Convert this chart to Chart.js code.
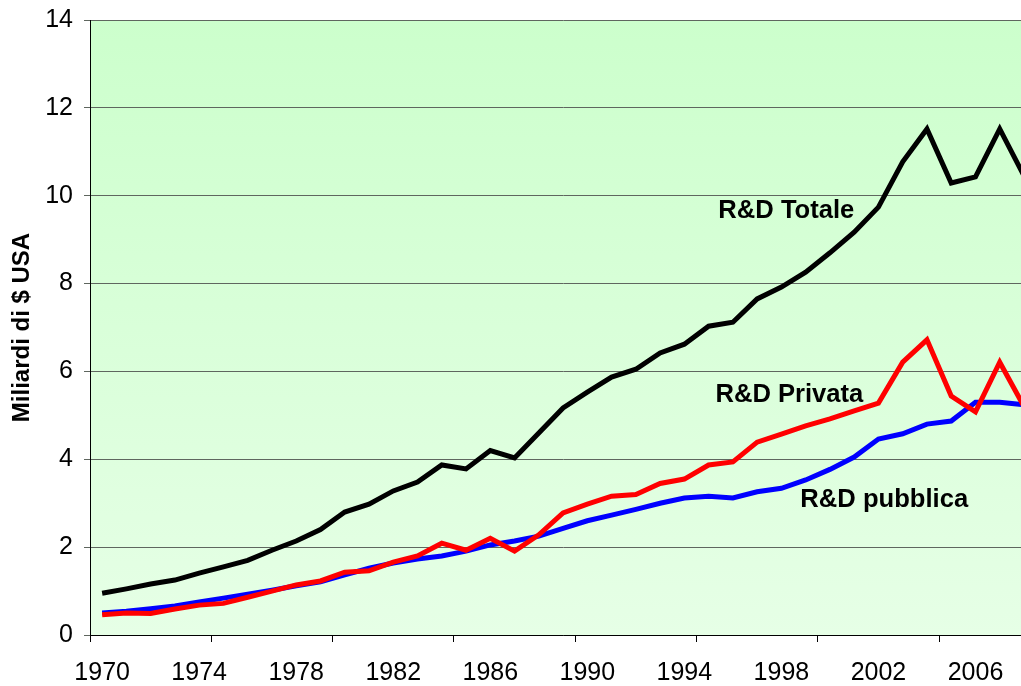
<!DOCTYPE html>
<html>
<head>
<meta charset="utf-8">
<script src="https://cdn.jsdelivr.net/npm/chart.js@4.4.1/dist/chart.umd.min.js"></script>
<style>
  html, body { margin: 0; padding: 0; overflow: hidden; background: #ffffff; width: 1021px; height: 686px; }
  #wrap { position: absolute; left: 0; top: 0; width: 1040px; height: 686px; }
</style>
</head>
<body>
<div id="wrap"><canvas id="c"></canvas></div>
<script>
// ---- data (billions USD) ----
const years = [];
for (let y = 1970; y <= 2008; y++) years.push(String(y));

const totale = [0.95,1.05,1.16,1.25,1.41,1.55,1.70,1.93,2.14,2.40,
                2.80,2.98,3.28,3.48,3.87,3.78,4.20,4.03,4.60,5.17,
                5.53,5.87,6.05,6.42,6.62,7.03,7.12,7.65,7.92,8.26,
                8.70,9.17,9.74,10.77,11.52,10.29,10.43,11.52,10.45];

const privata = [0.46,0.50,0.49,0.59,0.68,0.72,0.86,1.00,1.14,1.23,
                 1.43,1.46,1.66,1.80,2.09,1.93,2.20,1.91,2.28,2.78,
                 2.98,3.16,3.20,3.45,3.55,3.87,3.94,4.39,4.57,4.76,
                 4.92,5.10,5.28,6.21,6.72,5.44,5.08,6.21,5.20];

const pubblica = [0.50,0.54,0.60,0.66,0.75,0.84,0.93,1.02,1.12,1.21,
                  1.37,1.52,1.64,1.73,1.80,1.91,2.05,2.14,2.25,2.43,
                  2.60,2.73,2.86,3.00,3.12,3.16,3.12,3.26,3.34,3.53,
                  3.77,4.05,4.46,4.58,4.80,4.87,5.30,5.30,5.24];

const seriesNames = ['R&D Totale', 'R&D Privata', 'R&D pubblica'];
const yTicks = [0, 2, 4, 6, 8, 10, 12, 14];
const yTitle = 'Miliardi di $ USA';

// label anchors (category index, value) for in-plot series labels
const seriesLabelAnchors = [
  { text: seriesNames[0], x: 25.4, y: 9.49 },
  { text: seriesNames[1], x: 25.28, y: 5.30 },
  { text: seriesNames[2], x: 28.78, y: 2.91 }
];

const FONT = "'Liberation Sans', Arial, sans-serif";

const bgPlugin = {
  id: 'bg',
  beforeDraw(chart) {
    const { ctx, chartArea: a } = chart;
    const g = ctx.createLinearGradient(0, a.top, 0, a.bottom);
    g.addColorStop(0, '#CCFFCC');
    g.addColorStop(1, '#E6FFE6');
    ctx.save();
    ctx.fillStyle = g;
    ctx.fillRect(a.left, a.top, a.right - a.left, a.bottom - a.top);
    ctx.restore();
  }
};

const labelPlugin = {
  id: 'seriesLabels',
  afterDatasetsDraw(chart) {
    const { ctx, scales } = chart;
    ctx.save();
    ctx.fillStyle = '#000000';
    ctx.font = "bold 25.6px " + FONT;
    ctx.textAlign = 'left';
    ctx.textBaseline = 'alphabetic';
    seriesLabelAnchors.forEach(l => {
      ctx.fillText(l.text, scales.x.getPixelForValue(l.x), scales.y.getPixelForValue(l.y));
    });
    ctx.restore();
  }
};

new Chart(document.getElementById('c'), {
  type: 'line',
  data: {
    labels: years,
    datasets: [
      { label: seriesNames[0], data: totale, borderColor: '#000000', borderWidth: 5 },
      { label: seriesNames[1], data: privata, borderColor: '#FF0000', borderWidth: 5 },
      { label: seriesNames[2], data: pubblica, borderColor: '#0000FF', borderWidth: 5 }
    ]
  },
  options: {
    responsive: true,
    maintainAspectRatio: false,
    animation: false,
    devicePixelRatio: 1,
    layout: { padding: { top: 20, right: 0, left: 0, bottom: 0 } },
    elements: {
      point: { radius: 0, hoverRadius: 0 },
      line: { tension: 0, borderJoinStyle: 'miter', borderCapStyle: 'butt' }
    },
    plugins: {
      legend: { display: false },
      tooltip: { enabled: false },
      title: { display: false }
    },
    scales: {
      x: {
        type: 'category',
        offset: true,
        afterFit(s) { s.height = 51; },
        grid: {
          offset: true,
          drawOnChartArea: false,
          drawTicks: true,
          tickLength: 7,
          color: (ctx) => (ctx.index % 5 === 0 ? '#000000' : 'rgba(0,0,0,0)'),
          lineWidth: 1
        },
        border: { display: true, color: '#000000', width: 1 },
        ticks: {
          autoSkip: false,
          maxRotation: 0,
          minRotation: 0,
          padding: 16,
          color: '#000000',
          font: { family: FONT, size: 25 },
          callback: function (val, idx) { return idx % 4 === 0 ? this.getLabelForValue(val) : ''; }
        }
      },
      y: {
        min: 0,
        max: 14,
        afterFit(s) { s.width = 90; },
        afterBuildTicks(s) { s.ticks = yTicks.map(v => ({ value: v })); },
        grid: {
          color: '#5f665f',
          lineWidth: 1,
          drawTicks: true,
          tickLength: 6,
          tickColor: '#5f665f'
        },
        border: { display: true, color: '#000000', width: 1 },
        ticks: {
          padding: 11,
          color: '#000000',
          font: { family: FONT, size: 25, lineHeight: 0.72 }
        },
        title: {
          display: true,
          text: yTitle,
          color: '#000000',
          font: { family: FONT, size: 24, weight: 'bold', lineHeight: 1.2 },
          padding: { top: 8, bottom: 0 }
        }
      }
    }
  },
  plugins: [bgPlugin, labelPlugin]
});
</script>
</body>
</html>
